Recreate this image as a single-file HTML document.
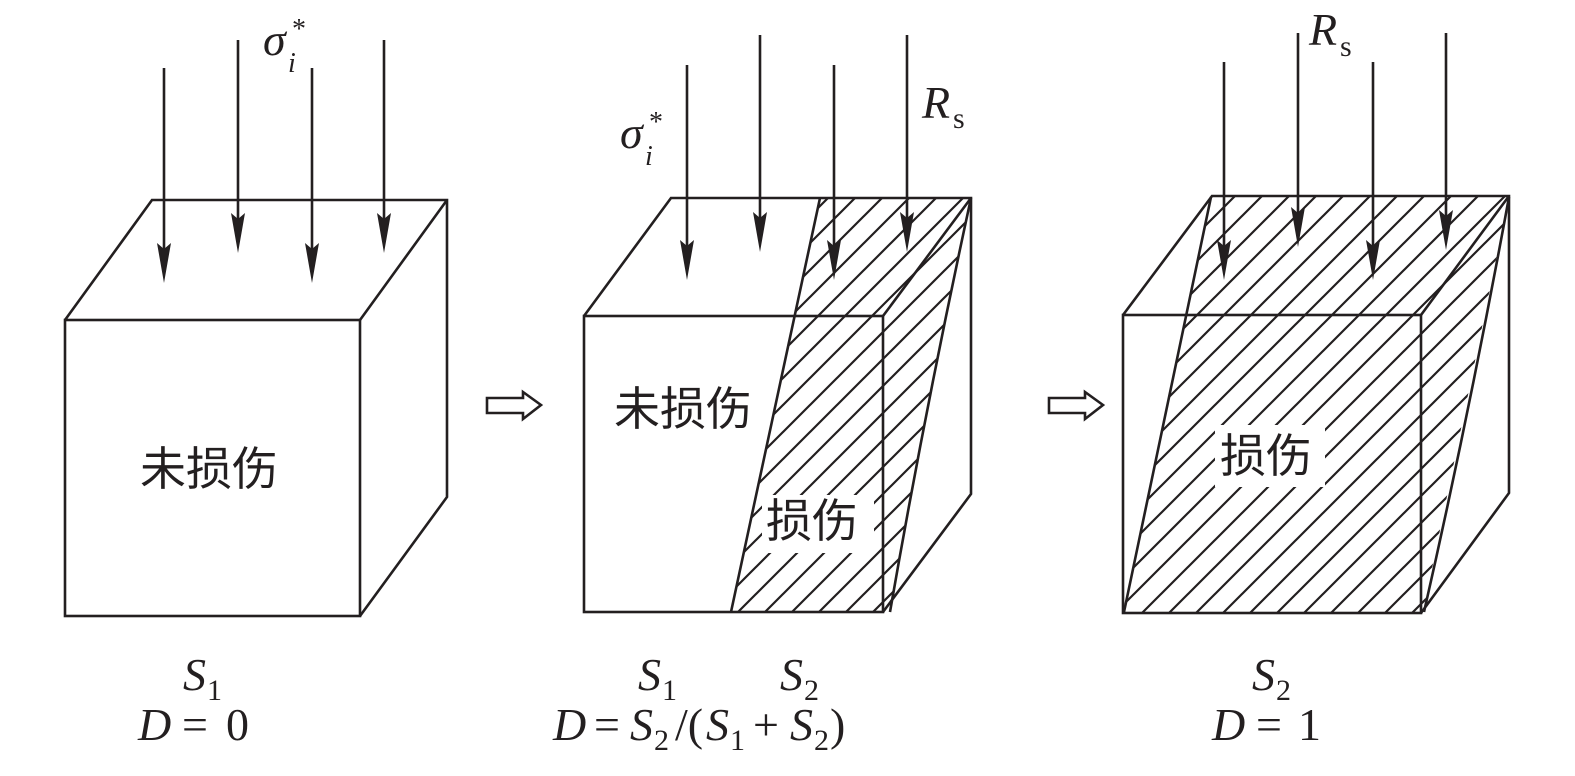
<!DOCTYPE html>
<html><head><meta charset="utf-8"><style>
html,body{margin:0;padding:0;background:#fff;}
svg{display:block;}
.m{font-family:"Liberation Serif","Times New Roman",serif;fill:#231f20;}
.c{font-family:"Liberation Sans","Noto Sans CJK SC",sans-serif;font-size:46px;fill:#231f20;}
</style></head><body>
<svg width="1575" height="776" viewBox="0 0 1575 776" xmlns="http://www.w3.org/2000/svg">
<defs>
<pattern id="h" patternUnits="userSpaceOnUse" width="27" height="27">
<path d="M-2,29 L29,-2 M-2,2 L2,-2 M25,29 L29,25" stroke="#231f20" stroke-width="2.2"/>
</pattern>
<g id="ah"><path d="M-7,-40 L0,-34 L7,-40 L0,0 Z" fill="#231f20"/></g>
</defs>
<g fill="none" stroke="#231f20" stroke-width="2.6" stroke-linejoin="miter">
<rect x="65" y="320" width="295" height="296"/>
<path d="M65,320 L152,200 L447,200 L447,497 L360,616 M360,320 L447,200"/>
</g>
<path d="M731,612 L820,198 L971,198 Q925,410 890,612 Z" fill="url(#h)"/>
<g fill="none" stroke="#231f20" stroke-width="2.6">
<rect x="584" y="316" width="299" height="296"/>
<path d="M584,316 L671,198 L971,198 L971,494 L883,612 M883,316 L971,198"/>
<path d="M731,612 L820,198 M971,198 Q925,410 890,612"/>
</g>
<rect x="762" y="495" width="112" height="58" fill="#fff"/>
<path d="M1124,612 L1211,197 L1509,197 L1423,612 Z" fill="url(#h)"/>
<g fill="none" stroke="#231f20" stroke-width="2.6">
<rect x="1123" y="315" width="298" height="298"/>
<path d="M1123,315 L1212,196 L1509,196 L1509,493 L1421,613 M1421,315 L1509,196"/>
<path d="M1124,612 L1211,197 M1509,197 Q1470,410 1424,612"/>
</g>
<rect x="1215" y="425" width="110" height="62" fill="#fff"/>
<g stroke="#231f20" stroke-width="2.6">
<line x1="164" y1="68" x2="164" y2="260"/><line x1="238" y1="40" x2="238" y2="230"/>
<line x1="312" y1="68" x2="312" y2="260"/><line x1="384" y1="40" x2="384" y2="230"/>
<line x1="687" y1="65" x2="687" y2="258"/><line x1="760" y1="35" x2="760" y2="230"/>
<line x1="834" y1="65" x2="834" y2="258"/><line x1="907" y1="35" x2="907" y2="230"/>
<line x1="1224" y1="62" x2="1224" y2="258"/><line x1="1298" y1="33" x2="1298" y2="225"/>
<line x1="1373" y1="62" x2="1373" y2="258"/><line x1="1446" y1="33" x2="1446" y2="228"/>
</g>
<use href="#ah" x="164" y="283"/><use href="#ah" x="238" y="253"/><use href="#ah" x="312" y="283"/><use href="#ah" x="384" y="253"/>
<use href="#ah" x="687" y="280"/><use href="#ah" x="760" y="252"/><use href="#ah" x="834" y="280"/><use href="#ah" x="907" y="252"/>
<use href="#ah" x="1224" y="280"/><use href="#ah" x="1298" y="247"/><use href="#ah" x="1373" y="280"/><use href="#ah" x="1446" y="250"/>
<path d="M487,398 L523,398 L523,392 L541,405 L523,419 L523,413 L487,413 Z" fill="none" stroke="#231f20" stroke-width="2.6"/>
<path d="M1049,398 L1085,398 L1085,392 L1103,405 L1085,419 L1085,413 L1049,413 Z" fill="none" stroke="#231f20" stroke-width="2.6"/>
<text class="m" x="263" y="55" style="font-size:46px;font-style:italic">σ</text><text class="m" x="288" y="72" style="font-size:28px;font-style:italic">i</text><text class="m" x="292" y="38" style="font-size:28px">*</text>
<text class="m" x="620" y="148" style="font-size:46px;font-style:italic">σ</text><text class="m" x="645" y="165" style="font-size:28px;font-style:italic">i</text><text class="m" x="649" y="131" style="font-size:28px">*</text>
<text class="m" x="922" y="118" style="font-size:46px;font-style:italic">R</text><text class="m" x="953" y="128" style="font-size:30px">s</text>
<text class="m" x="1309" y="45" style="font-size:46px;font-style:italic">R</text><text class="m" x="1340" y="56" style="font-size:30px">s</text>
<text class="c" x="140" y="485">未损伤</text>
<text class="c" x="614" y="425">未损伤</text>
<text class="c" x="766" y="537">损伤</text>
<text class="c" x="1220" y="472">损伤</text>
<text class="m" x="183" y="690" style="font-size:46px;font-style:italic">S</text><text class="m" x="207" y="700" style="font-size:30px">1</text>
<text class="m" x="138" y="740" style="font-size:46px;font-style:italic">D</text><text class="m" x="182" y="740" style="font-size:46px">=</text><text class="m" x="226" y="740" style="font-size:46px">0</text>
<text class="m" x="638" y="690" style="font-size:46px;font-style:italic">S</text><text class="m" x="662" y="700" style="font-size:30px">1</text>
<text class="m" x="780" y="690" style="font-size:46px;font-style:italic">S</text><text class="m" x="804" y="700" style="font-size:30px">2</text>
<text class="m" x="553" y="740" style="font-size:46px;font-style:italic">D</text>
<text class="m" x="594" y="740" style="font-size:46px">=</text>
<text class="m" x="630" y="740" style="font-size:46px;font-style:italic">S</text><text class="m" x="654" y="750" style="font-size:30px">2</text>
<text class="m" x="675" y="740" style="font-size:46px">/(</text>
<text class="m" x="706" y="740" style="font-size:46px;font-style:italic">S</text><text class="m" x="730" y="750" style="font-size:30px">1</text>
<text class="m" x="753" y="740" style="font-size:46px">+</text>
<text class="m" x="790" y="740" style="font-size:46px;font-style:italic">S</text><text class="m" x="814" y="750" style="font-size:30px">2</text>
<text class="m" x="830" y="740" style="font-size:46px">)</text>
<text class="m" x="1252" y="690" style="font-size:46px;font-style:italic">S</text><text class="m" x="1276" y="700" style="font-size:30px">2</text>
<text class="m" x="1212" y="740" style="font-size:46px;font-style:italic">D</text><text class="m" x="1256" y="740" style="font-size:46px">=</text><text class="m" x="1298" y="740" style="font-size:46px">1</text>
</svg>
</body></html>
